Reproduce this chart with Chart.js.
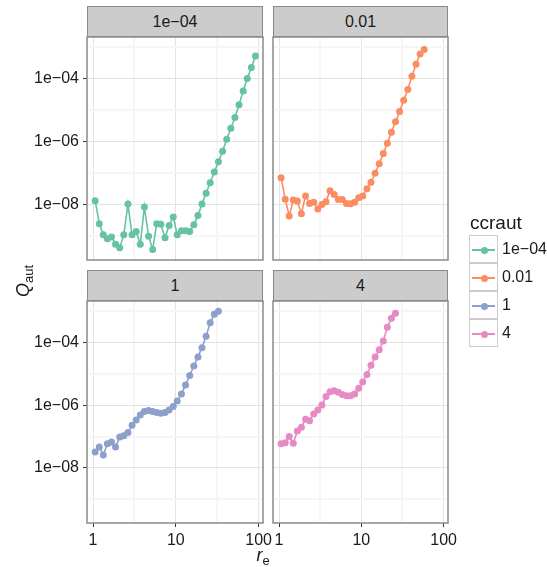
<!DOCTYPE html>
<html>
<head>
<meta charset="utf-8">
<script src="https://cdn.jsdelivr.net/npm/chart.js@4.4.0/dist/chart.umd.min.js"></script>
<style>
  html, body { margin: 0; padding: 0; background: #fff; }
  #plot {
    position: relative; width: 547px; height: 567px; overflow: hidden;
    font-family: "Liberation Sans", Arial, sans-serif; color: #1a1a1a;
  }
  #plot canvas { position: absolute; left: 0; top: 0; }
  .strip {
    position: absolute; box-sizing: border-box; background: #cccccc;
    border: 1px solid #8a8a8a; font-size: 16px; text-align: center; line-height: 29px;
  }
  .title {
    position: absolute; width: 100px; height: 24px; line-height: 24px;
    font-size: 18px; text-align: center; white-space: nowrap;
  }
  .title sub { font-size: 13px; vertical-align: -4px; line-height: 0; }
  /* boxes centred on (23, 281) and (263, 555) */
  #ytitle { left: -27px; top: 269px; transform: rotate(-90deg); }
  #xtitle { left: 213px; top: 543px; }
  #legend { position: absolute; left: 469px; top: 210px; }
  #legend .ltitle { font-size: 19px; height: 25px; line-height: 25px; margin-left: 1px; }
  .lrow { position: relative; height: 28px; }
  .lkey {
    position: absolute; left: 0; top: 0; width: 29px; height: 28px; box-sizing: border-box;
    border: 1px solid #cccccc; background: #fff;
  }
  .lkey .seg { position: absolute; left: 2px; right: 2px; top: 13px; height: 2px; }
  .lkey .dot { position: absolute; left: 10.5px; top: 10.5px; width: 7px; height: 7px; border-radius: 50%; }
  .llab { position: absolute; left: 33px; top: 0; line-height: 28px; font-size: 16px; }
</style>
</head>
<body>
<div id="plot">
  <canvas id="p1" width="547" height="567"></canvas>
  <canvas id="p2" width="547" height="567"></canvas>
  <canvas id="p3" width="547" height="567"></canvas>
  <canvas id="p4" width="547" height="567"></canvas>
  <div id="ytitle" class="title"><i>Q</i><sub>aut</sub></div>
  <div id="xtitle" class="title"><i>r</i><sub>e</sub></div>
  <div id="legend"></div>
</div>
<script>
// ---- data ----
const re = [1.06, 1.19, 1.33, 1.49, 1.67, 1.87, 2.10, 2.35, 2.64, 2.96,
            3.32, 3.72, 4.17, 4.68, 5.25, 5.88, 6.60, 7.40, 8.29, 9.30,
            10.4, 11.7, 13.1, 14.7, 16.5, 18.5, 20.7, 23.2, 26.0, 29.2,
            32.7, 36.7, 41.2, 46.2, 51.8, 58.0, 65.1, 73.0, 81.8, 91.7];

const qaut1e4 = [1.34e-8, 2.5e-9, 1.1e-9, 8.3e-10, 9.5e-10, 5.5e-10, 4.3e-10, 1.1e-9, 1.05e-8, 1.1e-9,
                 1.4e-9, 5.5e-10, 8.5e-9, 1.0e-9, 3.8e-10, 2.5e-9, 2.4e-9, 8.9e-10, 2.2e-9, 4.1e-9,
                 1.1e-9, 1.5e-9, 1.5e-9, 1.4e-9, 2.3e-9, 4.5e-9, 1.05e-8, 2.3e-8, 5.0e-8, 1.1e-7,
                 2.3e-7, 5.0e-7, 1.2e-6, 2.7e-6, 5.9e-6, 1.5e-5, 4.1e-5, 1.02e-4, 2.3e-4, 5.3e-4];
const qaut001 = [7.2e-8, 1.5e-8, 4.4e-9, 1.4e-8, 1.3e-8, 5.2e-9, 1.9e-8, 1.1e-8, 1.2e-8, 7.3e-9,
                 1.02e-8, 1.25e-8, 2.8e-8, 2.1e-8, 1.45e-8, 1.45e-8, 1.1e-8, 1.07e-8, 1.2e-8, 1.66e-8,
                 1.9e-8, 3.2e-8, 5.2e-8, 1.0e-7, 2.0e-7, 4.2e-7, 8.9e-7, 2.0e-6, 4.3e-6, 9.1e-6,
                 2.1e-5, 4.6e-5, 1.2e-4, 2.9e-4, 6.1e-4, 8.5e-4];
const qaut1 = [3.2e-8, 4.7e-8, 2.6e-8, 5.9e-8, 6.7e-8, 4.7e-8, 9.8e-8, 1.07e-7, 1.35e-7, 2.3e-7,
               3.4e-7, 4.9e-7, 6.3e-7, 6.8e-7, 6.3e-7, 5.9e-7, 5.6e-7, 5.9e-7, 7.1e-7, 9.1e-7,
               1.38e-6, 2.3e-6, 4.4e-6, 8.9e-6, 1.8e-5, 3.5e-5, 6.9e-5, 1.6e-4, 4.3e-4, 8.0e-4, 1.0e-3];
const qaut4 = [5.9e-8, 6.4e-8, 1.0e-7, 6.1e-8, 1.5e-7, 2.0e-7, 3.6e-7, 3.2e-7, 5.3e-7, 7.1e-7,
               1.02e-6, 1.9e-6, 2.7e-6, 2.9e-6, 2.6e-6, 2.2e-6, 2.0e-6, 2.0e-6, 2.3e-6, 3.5e-6,
               5.5e-6, 9.6e-6, 1.9e-5, 3.5e-5, 5.9e-5, 1.13e-4, 3.1e-4, 6.0e-4, 8.7e-4];

const ccraut = ['1e\u221204', '0.01', '1', '4'];
const colours = ['#66C2A5', '#FC8D62', '#8DA0CB', '#E78AC3'];

const xTicks = [1, 10, 100];
const xTickLabels = ['1', '10', '100'];
const xMinor = [3.162, 31.62];
const yTicks = [1e-8, 1e-6, 1e-4];
const yTickLabels = ['1e\u221208', '1e\u221206', '1e\u221204'];
const yMinor = [1e-9, 1e-7, 1e-5, 1e-3];
const xLimits = [0.845, 113];
const yLimits = [1.75e-10, 2.13e-3];

// ---- layout of the facets (plot area boxes in page pixels) ----
const W = 547, H = 567;
const panels = [
  { id: 'p1', q: qaut1e4, box: [87, 37, 263, 260], showX: false, showY: true },
  { id: 'p2', q: qaut001, box: [273, 37, 448, 260], showX: false, showY: false },
  { id: 'p3', q: qaut1,   box: [87, 301, 263, 523], showX: true,  showY: true },
  { id: 'p4', q: qaut4,   box: [273, 301, 448, 523], showX: true,  showY: false }
];

const font = { family: '"Liberation Sans", Arial, sans-serif', size: 16 };

function sameValue(a, b) { return Math.abs(a - b) <= Math.abs(b) * 1e-6; }
function labelFor(v, vals, labels) {
  const i = vals.findIndex(t => sameValue(v, t));
  return i >= 0 ? labels[i] : '';
}

const panelBorder = {
  id: 'panelBorder',
  afterDraw(chart) {
    const a = chart.chartArea, ctx = chart.ctx;
    ctx.save();
    ctx.strokeStyle = '#8a8a8a';
    ctx.lineWidth = 1.5;
    ctx.strokeRect(a.left, a.top, a.right - a.left, a.bottom - a.top);
    ctx.restore();
  }
};

// size = room the axis takes outside the panel (0 when it has no labels)
function axisOptions(lim, major, minor, labels, show, horizontal, size) {
  const isMajor = c => c.tick && major.some(t => sameValue(c.tick.value, t));
  return {
    type: 'logarithmic',
    min: lim[0],
    max: lim[1],
    afterBuildTicks: s => {
      s.ticks = major.concat(minor).sort((a, b) => a - b).map(v => ({ value: v }));
    },
    afterFit: s => {
      if (horizontal) s.height = size; else s.width = size;
      s.paddingLeft = 0; s.paddingRight = 0; s.paddingTop = 0; s.paddingBottom = 0;
    },
    border: { display: false },
    grid: {
      color: c => isMajor(c) ? '#e3e3e3' : '#f6f6f6',
      lineWidth: c => isMajor(c) ? 1 : 2,
      drawTicks: show,
      tickLength: 4,
      tickWidth: 1,
      tickColor: c => isMajor(c) ? '#333' : 'rgba(0,0,0,0)'
    },
    ticks: {
      display: show,
      autoSkip: false,
      maxRotation: 0,
      padding: 4,
      color: '#1a1a1a',
      font: font,
      callback: v => labelFor(v, major, labels)
    }
  };
}

panels.forEach((p, k) => {
  const [x0, y0, x1, y1] = p.box;
  const ySize = p.showY ? x0 : 0;
  const xSize = p.showX ? H - y1 : 0;
  new Chart(document.getElementById(p.id), {
    type: 'line',
    data: {
      datasets: [{
        label: ccraut[k],
        data: p.q.map((v, i) => ({ x: re[i], y: v })),
        borderColor: colours[k],
        backgroundColor: colours[k],
        borderWidth: 1.6,
        pointRadius: 3.5,
        pointBorderWidth: 0,
        pointHoverRadius: 3.5,
        tension: 0
      }]
    },
    options: {
      responsive: false,
      animation: false,
      devicePixelRatio: 1,
      events: [],
      layout: { padding: { left: x0 - ySize, top: y0, right: W - x1, bottom: H - y1 - xSize } },
      plugins: { legend: { display: false }, tooltip: { enabled: false } },
      scales: {
        x: axisOptions(xLimits, xTicks, xMinor, xTickLabels, p.showX, true, xSize),
        y: axisOptions(yLimits, yTicks, yMinor, yTickLabels, p.showY, false, ySize)
      }
    },
    plugins: [panelBorder]
  });

  // facet strip
  const strip = document.createElement('div');
  strip.className = 'strip';
  strip.style.left = x0 + 'px';
  strip.style.top = (y0 - 31) + 'px';
  strip.style.width = (x1 - x0) + 'px';
  strip.style.height = '31px';
  strip.textContent = ccraut[k];
  document.getElementById('plot').appendChild(strip);
});

// legend
const legend = document.getElementById('legend');
legend.innerHTML = '<div class="ltitle">ccraut</div>' + ccraut.map((name, i) => `
  <div class="lrow">
    <div class="lkey">
      <div class="seg" style="background:${colours[i]}"></div>
      <div class="dot" style="background:${colours[i]}"></div>
    </div>
    <div class="llab">${name}</div>
  </div>`).join('');
</script>
</body>
</html>
